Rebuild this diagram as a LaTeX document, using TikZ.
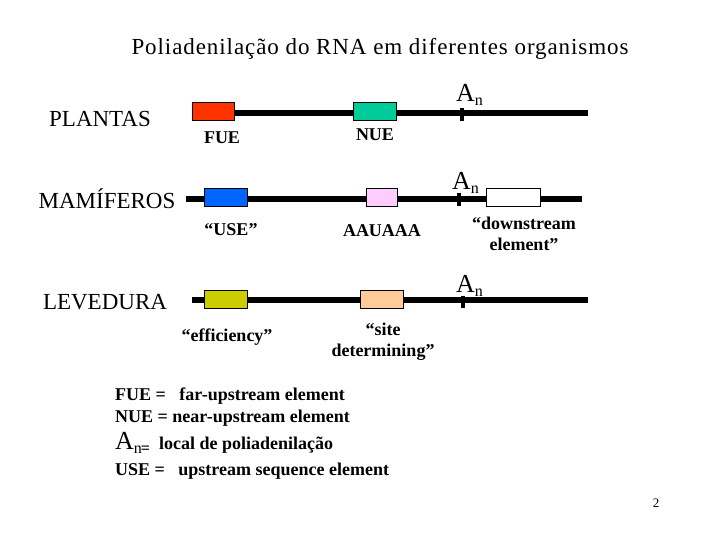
\documentclass[tikz,border=0pt]{standalone}
\usepackage{fontspec}
\setmainfont{Liberation Serif}
\newfontfamily\titlefont[LetterSpace=4]{Liberation Serif}
\definecolor{fuered}{HTML}{FF3300}
\definecolor{nuegreen}{HTML}{00CC99}
\definecolor{useblue}{HTML}{0066FF}
\definecolor{aaupink}{HTML}{FFCCFF}
\definecolor{effyellow}{HTML}{CCCC00}
\definecolor{sitepeach}{HTML}{FFCC99}
\newcommand{\polyA}{{\fontsize{26}{26}\selectfont A}\raisebox{-4pt}{\fontsize{16}{16}\selectfont n}}
\begin{document}
\begin{tikzpicture}[x=1pt, y=-1pt,
  element/.style={draw, thin, minimum width=42pt, minimum height=18pt, inner sep=0pt},
  rna/.style={line width=6pt},
  cut/.style={line width=4pt},
  org/.style={font=\fontsize{23}{23}\selectfont},
  lbl/.style={font=\fontsize{18}{21}\selectfont\bfseries, align=center},
  legend/.style={font=\fontsize{18}{18}\selectfont\bfseries, anchor=west, inner sep=0pt}]
\useasboundingbox (0,0) rectangle (720,540);
\node (title) at (380,49) {\titlefont\fontsize{23}{23}\selectfont Poliadenilação do RNA em diferentes organismos};
% plantas
\node[org] (plantas) at (100,119) {PLANTAS};
\coordinate (p1s) at (192,113);
\coordinate (p1e) at (588,113);
\draw[rna] (p1s)--(p1e);
\node[element, fill=fuered] (fue) at (213,111) {};
\node[element, fill=nuegreen, minimum width=43pt] (nue) at (375,111) {};
\coordinate (a1t) at (462,108);
\coordinate (a1b) at (462,121);
\draw[cut] (a1t)--(a1b);
\node[anchor=base west, inner sep=0pt] (an1) at (456,102) {\polyA};
\node[lbl] (fuel) at (222,138) {FUE};
\node[lbl] (nuel) at (375,135) {NUE};
% mamiferos
\node[org] (mamiferos) at (107,199) {MAMÍFEROS};
\coordinate (p2s) at (186,199);
\coordinate (p2e) at (582,199);
\draw[rna] (p2s)--(p2e);
\node[element, fill=useblue, minimum width=43pt] (use) at (225.5,197) {};
\node[element, fill=aaupink, minimum width=31pt] (aau) at (381.5,197) {};
\node[element, fill=white, minimum width=54pt] (down) at (513,197) {};
\coordinate (a2t) at (459,193);
\coordinate (a2b) at (459,206);
\draw[cut] (a2t)--(a2b);
\node[anchor=base west, inner sep=0pt] (an2) at (452,190) {\polyA};
\node[lbl] (usel) at (231,230) {“USE”};
\node[lbl] (aaul) at (382,231) {AAUAAA};
\node[lbl] (downl) at (524,234) {“downstream\\element”};
% levedura
\node[org] (levedura) at (105,302) {LEVEDURA};
\coordinate (p3s) at (192,300);
\coordinate (p3e) at (588,300);
\draw[rna] (p3s)--(p3e);
\node[element, fill=effyellow, minimum width=43pt] (eff) at (225.5,299) {};
\node[element, fill=sitepeach, minimum width=43pt] (site) at (381.5,299) {};
\coordinate (a3t) at (463,296);
\coordinate (a3b) at (463,308);
\draw[cut] (a3t)--(a3b);
\node[anchor=base west, inner sep=0pt] (an3) at (456,292) {\polyA};
\node[lbl] (effl) at (227,337) {“efficiency”};
\node[lbl] (sitel) at (383,342) {“site\\determining”};
% legenda
\node[legend] (leg1) at (115,396) {FUE =\ \ \ far-upstream element};
\node[legend] (leg2) at (115,418) {NUE = near-upstream element};
\node[legend] (leg3) at (115,443) {{\mdseries\polyA}\hspace{-1pt}{\fontsize{16}{16}\selectfont\raisebox{-4pt}{=}}\ \ local de poliadenilação};
\node[legend] (leg4) at (115,471) {USE =\ \ \ upstream sequence element};
\node[font=\fontsize{13}{13}\selectfont] (page) at (656,503) {2};
\end{tikzpicture}
\end{document}
